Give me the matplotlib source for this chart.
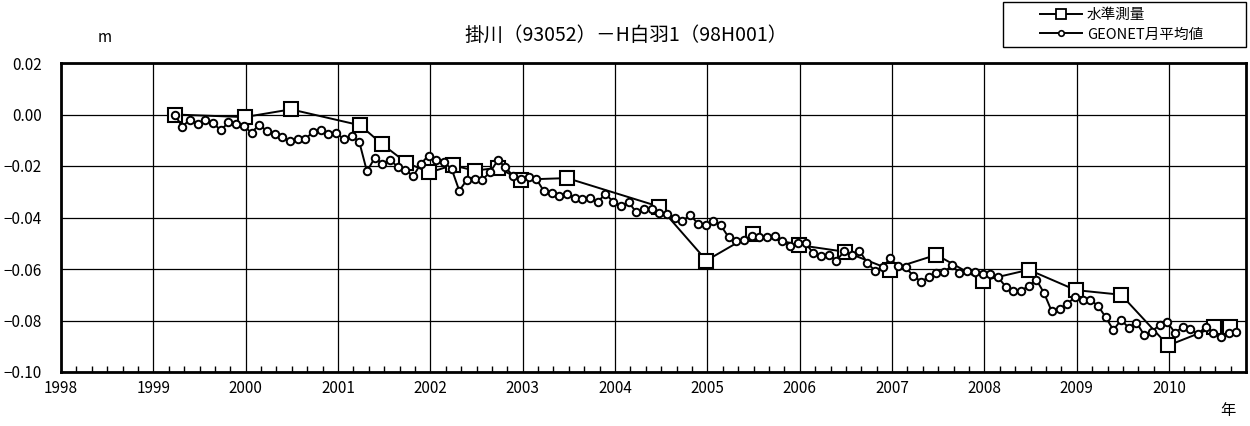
import numpy as np
import matplotlib
matplotlib.use('Agg')
import matplotlib.pyplot as plt
from matplotlib.lines import Line2D
from matplotlib.patches import Rectangle
from matplotlib.ticker import MultipleLocator

plt.rcParams['font.family'] = ['Noto Sans CJK JP', 'DejaVu Sans']
plt.rcParams['axes.unicode_minus'] = True

title = '掛川（93052）－H白羽1（98H001）'
label_level = '水準測量'
label_geonet = 'GEONET月平均値'

# levelling survey (squares)
level_t = [1999.23, 1999.99, 2000.49, 2001.24, 2001.48, 2001.74, 2001.99, 2002.24,
           2002.48, 2002.73, 2002.98, 2003.48, 2004.48, 2004.99, 2005.49, 2005.99,
           2006.49, 2006.98, 2007.48, 2007.98, 2008.48, 2008.99, 2009.48, 2009.99,
           2010.49, 2010.66]
level_v = [0.0, -0.001, 0.002, -0.0042, -0.0116, -0.0187, -0.0225, -0.0197,
           -0.0218, -0.0207, -0.0253, -0.0247, -0.0358, -0.0567, -0.0463, -0.0507,
           -0.0533, -0.0602, -0.0545, -0.0645, -0.0603, -0.0682, -0.0700, -0.0897,
           -0.0826, -0.0824]

# GEONET monthly means (circles), starting 1999.23
geo_start = 1999.23
geo_v = [0.0, -0.0047, -0.002, -0.0035, -0.0022, -0.0032, -0.0062, -0.003, -0.0036, -0.0045,
         -0.0071, -0.0039, -0.0065, -0.0075, -0.0088, -0.0104, -0.0097, -0.0095, -0.0067, -0.0062,
         -0.0075, -0.0070, -0.0097, -0.0084, -0.0106, -0.0221, -0.0169, -0.0191, -0.0175, -0.0204,
         -0.0214, -0.024, -0.0191, -0.016, -0.0178, -0.0186, -0.0211, -0.0296, -0.0253, -0.025,
         -0.0253, -0.0224, -0.0178, -0.0204, -0.024, -0.025, -0.0244, -0.025, -0.0298, -0.0305,
         -0.0318, -0.0307, -0.0324, -0.0328, -0.0326, -0.034, -0.0307, -0.034, -0.0354, -0.034,
         -0.038, -0.0367, -0.0367, -0.0382, -0.0385, -0.0402, -0.0415, -0.0389, -0.0424, -0.0430,
         -0.0413, -0.0431, -0.0477, -0.049, -0.0486, -0.047, -0.0477, -0.0477, -0.0473, -0.049,
         -0.0512, -0.05, -0.05, -0.0538, -0.0551, -0.0545, -0.0568, -0.0532, -0.0547, -0.0529,
         -0.0575, -0.0607, -0.0593, -0.0559, -0.059, -0.0594, -0.0626, -0.0649, -0.0632, -0.0616,
         -0.0613, -0.0586, -0.0616, -0.0607, -0.0613, -0.062, -0.0619, -0.0632, -0.0668, -0.0685,
         -0.0685, -0.0665, -0.0642, -0.0694, -0.0765, -0.0755, -0.0736, -0.0709, -0.072, -0.072,
         -0.0743, -0.0787, -0.0837, -0.0798, -0.0828, -0.0808, -0.0856, -0.0843, -0.0817, -0.0807,
         -0.0847, -0.0826, -0.0833, -0.0853, -0.0824, -0.0847, -0.0863, -0.0847, -0.0843]
geo_t = geo_start + np.arange(len(geo_v)) / 12.0

year_ticks = list(range(1998, 2011))
y_ticks = [0.02, 0.0, -0.02, -0.04, -0.06, -0.08, -0.10]
y_labels = ['0.02', '0.00', '\u22120.02', '\u22120.04', '\u22120.06', '\u22120.08', '\u22120.10']

W, H = 1250, 426
fig = plt.figure(figsize=(W / 100, H / 100), dpi=100)
ax = fig.add_axes([61 / W, 1 - 372 / H, (1246 - 61) / W, (372 - 63) / H])

ax.plot(level_t, level_v, color='black', lw=1.4, marker='s', ms=10,
        mfc='white', mec='black', mew=1.5, zorder=3)
ax.plot(geo_t, geo_v, color='black', lw=1.4, marker='o', ms=5.4,
        mfc='white', mec='black', mew=1.4, zorder=4)

ax.set_xlim(1998, 2010.833)
ax.set_ylim(-0.10, 0.02)
ax.set_xticks(year_ticks)
ax.set_xticklabels([str(y) for y in year_ticks], fontsize=11)
ax.xaxis.set_minor_locator(MultipleLocator(1 / 6))
ax.set_yticks(y_ticks)
ax.set_yticklabels(y_labels, fontsize=11)
ax.tick_params(axis='x', which='major', length=0, pad=6)
ax.tick_params(axis='x', which='minor', direction='in', length=4, width=1, top=False)
ax.tick_params(axis='y', which='major', length=0, pad=14)
ax.grid(True, which='major', color='black', lw=0.9)
for s in ax.spines.values():
    s.set_linewidth(2)
ax.set_axisbelow(True)

fig.text(626 / W, 1 - 35 / H, title, ha='center', va='center', fontsize=14)
fig.text(105 / W, 1 - 38 / H, 'm', ha='center', va='center', fontsize=11)
fig.text(1228 / W, 1 - 410 / H, '年', ha='center', va='center', fontsize=11)

# legend box
fig.patches.append(Rectangle((1003 / W, 1 - 47 / H), 243 / W, 45 / H, transform=fig.transFigure,
                             facecolor='white', edgecolor='black', lw=1.0))
handles = [Line2D([], [], color='black', lw=1.4, marker='s', ms=7.5, mfc='white', mec='black', mew=1.3),
           Line2D([], [], color='black', lw=1.4, marker='o', ms=4, mfc='white', mec='black', mew=1.2)]
leg = fig.legend(handles, [label_level, label_geonet], loc='center left',
                 bbox_to_anchor=(1040 / W, 1 - 25 / H), fontsize=10.5, frameon=False,
                 handlelength=2.9, handletextpad=0.3, borderpad=0, labelspacing=0.35,
                 borderaxespad=0)

fig.savefig('out.png', dpi=100)
